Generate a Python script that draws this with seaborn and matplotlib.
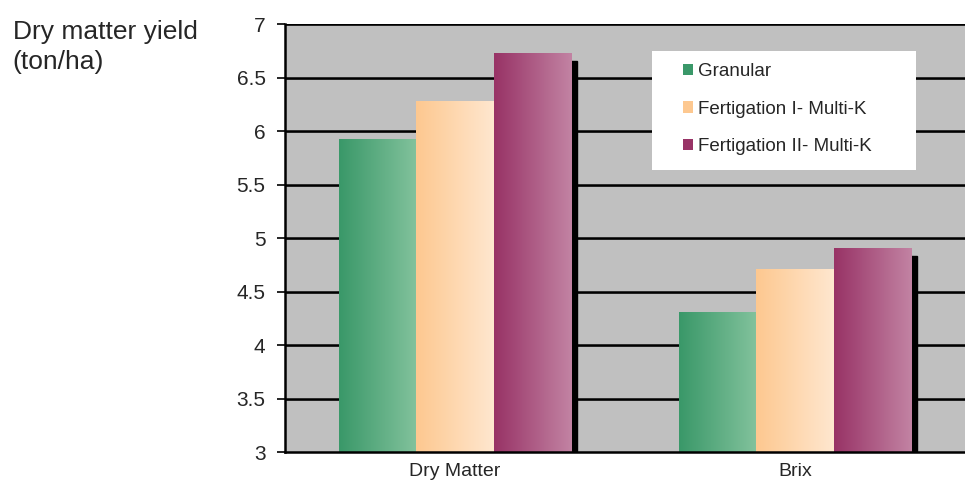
import numpy as np
import pandas as pd
import matplotlib
matplotlib.use('Agg')
import matplotlib.pyplot as plt
from matplotlib.patches import Patch, Rectangle
from matplotlib.colors import LinearSegmentedColormap
import seaborn as sns

# chart values
categories = ['Dry Matter', 'Brix']
treatments = ['Granular', 'Fertigation I- Multi-K', 'Fertigation II- Multi-K']
granular = [5.92, 4.30]
fert_one = [6.28, 4.71]
fert_two = [6.72, 4.90]

# dark -> light colour of each bar gradient
shades = {
    'Granular': ('#3a9869', '#82c29c'),
    'Fertigation I- Multi-K': ('#fdc890', '#ffe7cf'),
    'Fertigation II- Multi-K': ('#983366', '#c283a3'),
}

df = pd.DataFrame({
    'category': categories * 3,
    'treatment': [t for t in treatments for _ in categories],
    'value': granular + fert_one + fert_two,
})

sns.set_style('white')
plt.rcParams['font.family'] = ['Liberation Sans', 'DejaVu Sans']

fig = plt.figure(figsize=(9.65, 4.84), dpi=100)
ax = fig.add_axes([0.2953, 0.0661, 0.7047, 0.8843])
ax.set_facecolor('#c0c0c0')

sns.barplot(data=df, x='category', y='value', hue='treatment', order=categories,
            hue_order=treatments, width=0.68, ax=ax, legend=False,
            palette=[shades[t][0] for t in treatments], saturation=1)

ymin, ymax = 3, 7
ax.set_ylim(ymin, ymax)
ax.set_xlim(-0.5, 1.5)

# drop shadow and gradient fill for each bar
for i, bar in enumerate(list(ax.patches)):
    t = treatments[i // len(categories)]
    x0, w = bar.get_x(), bar.get_width()
    top = bar.get_y() + bar.get_height()
    shadow = Rectangle((x0 + 0.02, ymin - 0.1), w, top - 0.065 - ymin + 0.1,
                       color='black', zorder=1.5)
    ax.add_patch(shadow)
    bar.set_zorder(2)
    bar.set_edgecolor('none')
    cmap = LinearSegmentedColormap.from_list(t, list(shades[t]))
    grad = np.tile(np.linspace(0, 1, 100), (10, 1))
    ax.imshow(grad, cmap=cmap, extent=[x0, x0 + w, ymin, top], aspect='auto',
              zorder=2.1, interpolation='bilinear')

ax.set_xlim(-0.5, 1.5)
ax.set_ylim(ymin, ymax)

# grid lines
ax.set_yticks(np.arange(3, 7.01, 0.5))
ax.set_yticklabels(['3', '3.5', '4', '4.5', '5', '5.5', '6', '6.5', '7'])
for yv in np.arange(3.5, 7.01, 0.5):
    ax.axhline(yv - 0.012, color='#808080', lw=1.2, zorder=0.9)
    ax.axhline(yv, color='black', lw=1.8, zorder=1)

ax.set_xticks([0, 1])
ax.set_xticklabels(categories)
ax.set_xticks([-0.5, 0.5, 1.5], minor=True)
ax.tick_params(axis='x', which='major', length=0, labelsize=14, pad=8)
ax.tick_params(axis='x', which='minor', length=7, width=1.2, color='black', direction='out')
ax.tick_params(axis='y', length=6, width=1.2, color='black', labelsize=15, pad=8,
               left=True, direction='out')
ax.set_xlabel('')
ax.set_ylabel('')

for side in ['left', 'bottom']:
    ax.spines[side].set_color('black')
    ax.spines[side].set_linewidth(1.8)
    ax.spines[side].set_zorder(3)
ax.spines['right'].set_visible(False)
ax.spines['top'].set_visible(False)

# white legend box, then the legend entries without a frame
ax.add_patch(Rectangle((0.5397, 0.659), 0.3883, 0.278, transform=ax.transAxes,
                       facecolor='white', edgecolor='none', zorder=4))
handles = [Patch(facecolor=shades[t][0], edgecolor='none') for t in treatments]
leg = ax.legend(handles, treatments, loc='upper left', bbox_to_anchor=(0.585, 0.908),
                frameon=False, fontsize=13.5, handlelength=0.55, handleheight=0.55,
                handletextpad=0.25, labelspacing=1.08, borderpad=0, borderaxespad=0)
leg.set_zorder(5)

fig.text(0.013, 0.958, 'Dry matter yield\n(ton/ha)', fontsize=19, va='top', ha='left',
         linespacing=1.32)

fig.savefig('out.png', dpi=100)
